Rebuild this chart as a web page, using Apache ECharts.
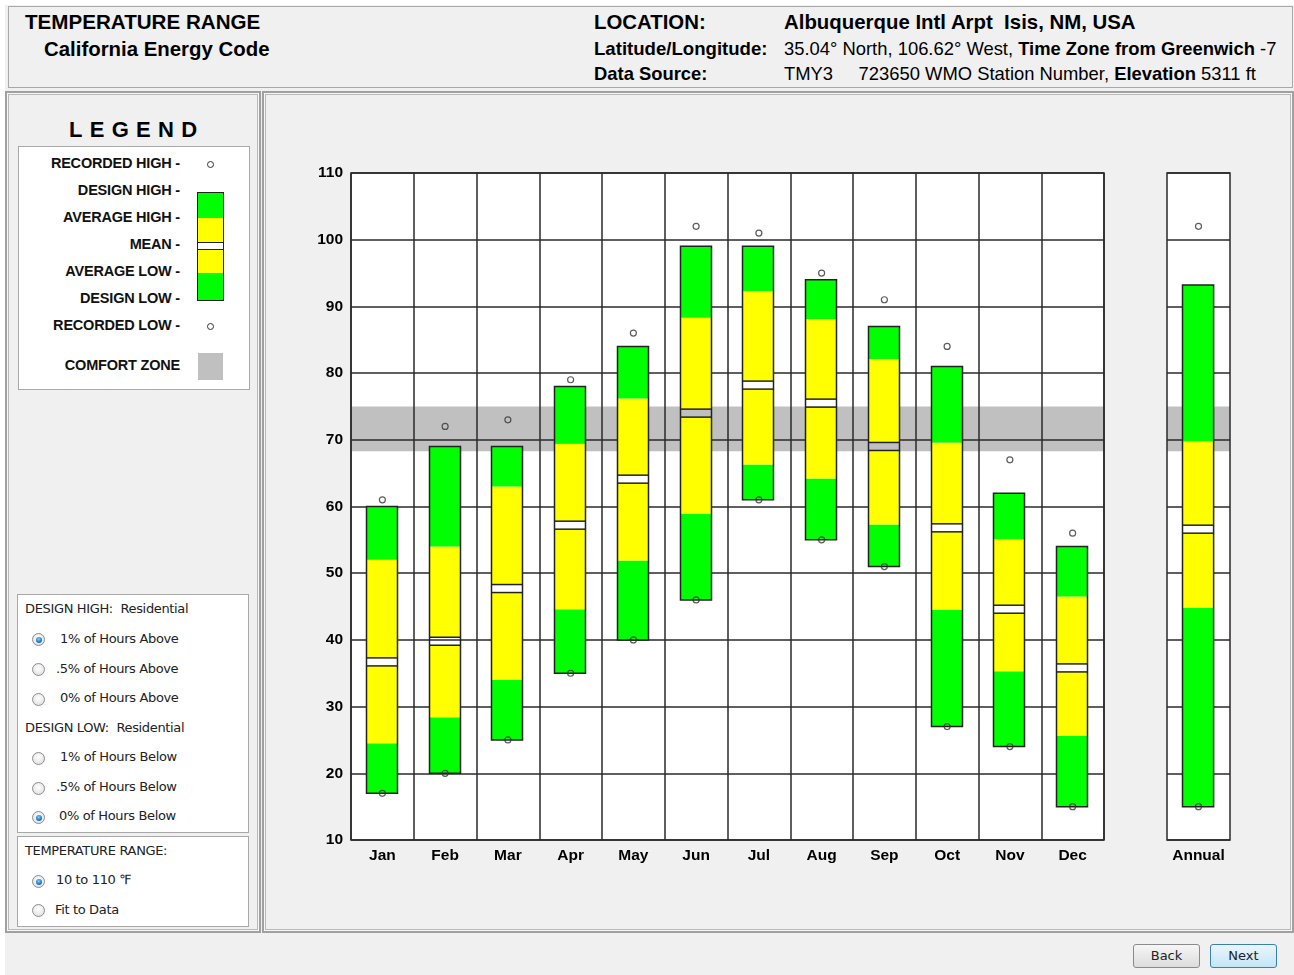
<!DOCTYPE html>
<html>
<head>
<meta charset="utf-8">
<script src="https://cdn.jsdelivr.net/npm/echarts@6/dist/echarts.min.js"></script>
<style>
  html,body{margin:0;padding:0;background:#fff;}
  body{width:1294px;height:975px;position:relative;overflow:hidden;font-family:"Liberation Sans",Arial,sans-serif;}
  .frame{position:absolute;left:5px;top:5px;width:1289px;height:970px;background:#f0f0f0;}
  .abs{position:absolute;white-space:nowrap;}
  .hdr{position:absolute;left:8px;top:6px;width:1283px;height:80px;border:1px solid #a8a8a8;background:#f0f0f0;}
  .b{font-weight:bold;}
  .panel{position:absolute;border:2px solid #a0a0a0;box-shadow:inset 0 0 0 1px #f8f8f8, inset 0 0 0 2px #b8b8b8;background:#f0f0f0;box-sizing:border-box;}
  .wbox{position:absolute;background:#fff;border:1px solid #a8a8a8;box-sizing:border-box;}
  .lg{position:absolute;font-weight:bold;font-size:14.5px;color:#111;text-align:right;width:170px;left:10px;letter-spacing:-0.2px;}
  .rtxt{position:absolute;font-family:"DejaVu Sans",sans-serif;font-size:13px;color:#222;white-space:nowrap;letter-spacing:-0.35px;}
  .radio{position:absolute;width:13px;height:13px;border-radius:50%;border:1px solid #8c8c8c;box-sizing:border-box;background:radial-gradient(circle at 50% 40%,#fff 0,#e6e6e6 70%,#d0d0d0 100%);}
  .radio.on::after{content:"";position:absolute;left:2.5px;top:2.5px;width:6px;height:6px;border-radius:50%;background:radial-gradient(circle at 45% 35%,#7fd0ff 0,#1a78c8 60%,#0b4f8f 100%);}
  .btn{position:absolute;height:24px;border:1px solid #8a8a8a;border-radius:3px;box-sizing:border-box;font-family:"DejaVu Sans",sans-serif;font-size:13px;color:#222;text-align:center;line-height:22px;background:linear-gradient(#f6f6f6,#dcdcdc);}
  .btn.next{border-color:#3c7fb1;background:linear-gradient(#eaf6fd,#c4e5f6);}
</style>
</head>
<body>
<div class="frame"></div>
<div class="hdr"></div>
<div class="abs b" style="left:25px;top:10px;font-size:20.6px;">TEMPERATURE RANGE</div>
<div class="abs b" style="left:44px;top:38px;font-size:20.4px;">California Energy Code</div>
<div class="abs b" style="left:594px;top:11px;font-size:20.4px;">LOCATION:</div>
<div class="abs b" style="left:784px;top:11px;font-size:20.4px;">Albuquerque Intl Arpt&nbsp; Isis, NM, USA</div>
<div class="abs" style="left:594px;top:38px;font-size:18.6px;"><span class="b">Latitude/Longitude:</span></div>
<div class="abs" style="left:784px;top:38px;font-size:18.4px;">35.04° North, 106.62° West, <span class="b">Time Zone from Greenwich</span> -7</div>
<div class="abs" style="left:594px;top:63px;font-size:18.4px;"><span class="b">Data Source:</span></div>
<div class="abs" style="left:784px;top:63px;font-size:18.4px;">TMY3&nbsp;&nbsp;&nbsp;&nbsp; 723650 WMO Station Number, <span class="b">Elevation</span> 5311 ft</div>

<div class="panel" style="left:5px;top:91px;width:256px;height:842px;"></div>
<div class="panel" style="left:262px;top:91px;width:1032px;height:842px;"></div>

<div class="abs b" style="left:69px;top:117px;font-size:22px;letter-spacing:7.3px;">LEGEND</div>
<div class="wbox" style="left:18px;top:146px;width:232px;height:244px;"></div>
<div class="lg" style="top:155px;">RECORDED HIGH -</div>
<div class="lg" style="top:182px;">DESIGN HIGH -</div>
<div class="lg" style="top:209px;">AVERAGE HIGH -</div>
<div class="lg" style="top:236px;">MEAN -</div>
<div class="lg" style="top:263px;">AVERAGE LOW -</div>
<div class="lg" style="top:290px;">DESIGN LOW -</div>
<div class="lg" style="top:317px;">RECORDED LOW -</div>
<div class="lg" style="top:357px;">COMFORT ZONE</div>
<div class="abs" style="left:207px;top:161px;width:7px;height:7px;border:1px solid #333;border-radius:50%;box-sizing:border-box;"></div>
<div class="abs" style="left:207px;top:323px;width:7px;height:7px;border:1px solid #333;border-radius:50%;box-sizing:border-box;"></div>
<div class="abs" style="left:197px;top:192px;width:27px;height:109px;border:1px solid #222;box-sizing:border-box;background:linear-gradient(#00ff00 0,#00ff00 25px,#ffff00 25px,#ffff00 49px,#222 49px,#222 50px,#fff 50px,#fff 56px,#222 56px,#222 57px,#ffff00 57px,#ffff00 80px,#00ff00 80px);"></div>
<div class="abs" style="left:198px;top:353px;width:25px;height:27px;background:#c0c0c0;"></div>

<div class="wbox" style="left:17px;top:594px;width:232px;height:239px;"></div>
<div class="rtxt" style="left:25px;top:601px;">DESIGN HIGH:&nbsp; Residential</div>
<div class="radio on" style="left:32px;top:633px;"></div><div class="rtxt" style="left:60px;top:631px;">1% of Hours Above</div>
<div class="radio" style="left:32px;top:663px;"></div><div class="rtxt" style="left:56px;top:661px;">.5% of Hours Above</div>
<div class="radio" style="left:32px;top:693px;"></div><div class="rtxt" style="left:60px;top:690px;">0% of Hours Above</div>
<div class="rtxt" style="left:25px;top:720px;">DESIGN LOW:&nbsp; Residential</div>
<div class="radio" style="left:32px;top:752px;"></div><div class="rtxt" style="left:60px;top:749px;">1% of Hours Below</div>
<div class="radio" style="left:32px;top:782px;"></div><div class="rtxt" style="left:56px;top:779px;">.5% of Hours Below</div>
<div class="radio on" style="left:32px;top:811px;"></div><div class="rtxt" style="left:59px;top:808px;">0% of Hours Below</div>
<div class="wbox" style="left:17px;top:836px;width:232px;height:91px;"></div>
<div class="rtxt" style="left:25px;top:843px;">TEMPERATURE RANGE:</div>
<div class="radio on" style="left:32px;top:875px;"></div><div class="rtxt" style="left:56px;top:872px;">10 to 110 ℉</div>
<div class="radio" style="left:32px;top:904px;"></div><div class="rtxt" style="left:55px;top:902px;">Fit to Data</div>

<div class="btn" style="left:1133px;top:944px;width:67px;">Back</div>
<div class="btn next" style="left:1210px;top:944px;width:67px;">Next</div>

<div id="chart" style="position:absolute;left:265px;top:95px;width:1028px;height:835px;"></div>

<script>
// ---- data (°F) ----
const months = ['Jan','Feb','Mar','Apr','May','Jun','Jul','Aug','Sep','Oct','Nov','Dec'];
const recordedHigh = [61, 72, 73, 79, 86, 102, 101, 95, 91, 84, 67, 56];
const designHigh   = [60, 69, 69, 78, 84, 99, 99, 94, 87, 81, 62, 54];
const averageHigh  = [52, 54, 63, 69.4, 76.2, 88.3, 92.3, 88.1, 82.1, 69.6, 55.1, 46.5];
const meanTemp     = [36.7, 39.8, 47.7, 57.2, 64.1, 74.0, 78.2, 75.5, 69.0, 56.8, 44.6, 35.8];
const averageLow   = [24.5, 28.4, 34, 44.6, 51.9, 58.9, 66.3, 64.2, 57.3, 44.5, 35.3, 25.6];
const designLow    = [17, 20, 25, 35, 40, 46, 61, 55, 51, 27, 24, 15];
const recordedLow  = [17, 20, 25, 35, 40, 46, 61, 55, 51, 27, 24, 15];

const annualLabel = ['Annual'];
const annualRecordedHigh = [102];
const annualDesignHigh   = [93.2];
const annualAverageHigh  = [69.8];
const annualMean         = [56.6];
const annualAverageLow   = [44.8];
const annualDesignLow    = [15];
const annualRecordedLow  = [15];

const comfortZone = [68.3, 75];
const yTicks = {min: 10, max: 110, interval: 10};

// ---- build ----
function rows(dl, al, mn, ah, dh){
  return dl.map((v,i)=>[i, dl[i], al[i], mn[i], ah[i], dh[i]]);
}
const GREEN='#00ff00', YELLOW='#ffff00', EDGE='#222';
function renderBar(params, api){
  const i = api.value(0);
  const vals=[1,2,3,4,5].map(k=>api.value(k));
  const ys = vals.map(v=>api.coord([i, v])[1]);
  const cx = api.coord([i, vals[0]])[0];
  const w = api.size([1,0])[0]*0.494;
  const x0 = Math.round(cx - w/2)-0.5;
  const [yDL,yAL,yMN,yAH,yDH] = ys;
  const h = 4;
  const r=(y1,y2,c)=>({type:'rect',shape:{x:x0,y:y1,width:w,height:y2-y1},style:{fill:c,stroke:null}});
  const ln=(y)=>({type:'line',shape:{x1:x0,y1:y,x2:x0+w,y2:y},style:{stroke:EDGE,lineWidth:1.5}});
  return {type:'group',children:[
    r(yAL,yDL,GREEN),
    r(yMN+h,yAL,YELLOW),
    r(yAH,yMN-h,YELLOW),
    r(yDH,yAH,GREEN),
    ln(yMN-h), ln(yMN+h),
    {type:'rect',shape:{x:x0,y:yDH,width:w,height:yDL-yDH},style:{fill:null,stroke:EDGE,lineWidth:1.5}}
  ]};
}
function renderBg(params, api){
  const cs = params.coordSys;
  const y1 = api.coord([0, comfortZone[1]])[1];
  const y2 = api.coord([0, comfortZone[0]])[1];
  return {type:'group',children:[
    {type:'rect',shape:{x:cs.x,y:cs.y,width:cs.width,height:cs.height},style:{fill:'#fff'}},
    {type:'rect',shape:{x:cs.x,y:y1,width:cs.width,height:y2-y1},style:{fill:'#c0c0c0'}}
  ]};
}
const labelFont = {fontFamily:'"Liberation Sans", Arial, sans-serif', fontWeight:'bold', fontSize:15.5, color:'#000'};
const splitStyle = {show:true, lineStyle:{color:'#2a2a2a', width:1.5}};

const chart = echarts.init(document.getElementById('chart'), null, {renderer:'canvas'});
chart.setOption({
  animation:false,
  backgroundColor:'transparent',
  grid:[
    {left:86, top:78, width:753, height:667, show:true, borderColor:'#2a2a2a', borderWidth:1.5, backgroundColor:'transparent'},
    {left:902, top:78, width:63, height:667, show:true, borderColor:'#2a2a2a', borderWidth:1.5, backgroundColor:'transparent'}
  ],
  xAxis:[
    {type:'category', gridIndex:0, data:months, axisTick:{show:false}, axisLine:{show:false},
     axisLabel:Object.assign({margin:8, interval:0}, labelFont), splitLine:Object.assign({interval:0}, splitStyle)},
    {type:'category', gridIndex:1, data:annualLabel, axisTick:{show:false}, axisLine:{show:false},
     axisLabel:Object.assign({margin:8}, labelFont), splitLine:{show:false}}
  ],
  yAxis:[
    {type:'value', gridIndex:0, min:yTicks.min, max:yTicks.max, interval:yTicks.interval,
     axisLine:{show:false}, axisTick:{show:false}, axisLabel:Object.assign({margin:8}, labelFont), splitLine:splitStyle},
    {type:'value', gridIndex:1, min:yTicks.min, max:yTicks.max, interval:yTicks.interval,
     axisLine:{show:false}, axisTick:{show:false}, axisLabel:{show:false}, splitLine:splitStyle}
  ],
  series:[
    {type:'custom', xAxisIndex:0, yAxisIndex:0, z:-1, silent:true, renderItem:renderBg, data:[[0,0]]},
    {type:'custom', xAxisIndex:1, yAxisIndex:1, z:-1, silent:true, renderItem:renderBg, data:[[0,0]]},
    {type:'custom', xAxisIndex:0, yAxisIndex:0, z:3, renderItem:renderBar,
     encode:{x:0, y:[1,2,3,4,5]}, data:rows(designLow, averageLow, meanTemp, averageHigh, designHigh)},
    {type:'custom', xAxisIndex:1, yAxisIndex:1, z:3, renderItem:renderBar,
     encode:{x:0, y:[1,2,3,4,5]}, data:rows(annualDesignLow, annualAverageLow, annualMean, annualAverageHigh, annualDesignHigh)},
    {type:'scatter', xAxisIndex:0, yAxisIndex:0, z:5, symbol:'circle', symbolSize:6,
     itemStyle:{color:'transparent', borderColor:'#333', borderWidth:1.2}, data:recordedHigh},
    {type:'scatter', xAxisIndex:0, yAxisIndex:0, z:5, symbol:'circle', symbolSize:6,
     itemStyle:{color:'transparent', borderColor:'#333', borderWidth:1.2}, data:recordedLow},
    {type:'scatter', xAxisIndex:1, yAxisIndex:1, z:5, symbol:'circle', symbolSize:6,
     itemStyle:{color:'transparent', borderColor:'#333', borderWidth:1.2}, data:annualRecordedHigh},
    {type:'scatter', xAxisIndex:1, yAxisIndex:1, z:5, symbol:'circle', symbolSize:6,
     itemStyle:{color:'transparent', borderColor:'#333', borderWidth:1.2}, data:annualRecordedLow}
  ]
});
</script>
</body>
</html>
